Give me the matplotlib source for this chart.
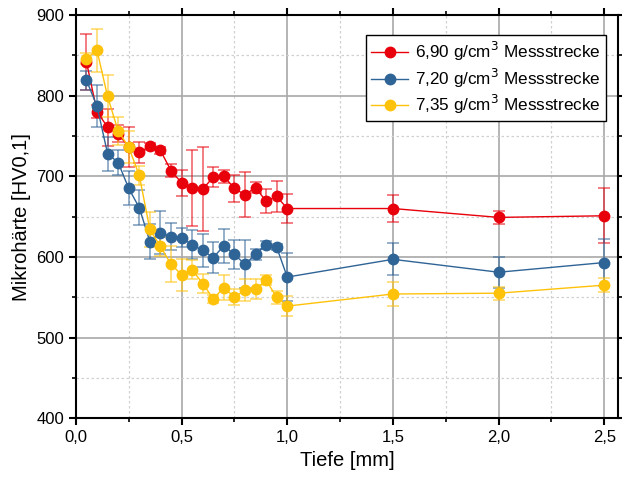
#!/usr/bin/env python3

import numpy as np
import matplotlib.pyplot as plt
from matplotlib.ticker import MultipleLocator, FuncFormatter

plt.rcParams["font.family"] = ["Liberation Sans", "DejaVu Sans"]

depth = [0.05, 0.1, 0.15, 0.2, 0.25, 0.3, 0.35, 0.4, 0.45, 0.5, 0.55, 0.6,
         0.65, 0.7, 0.75, 0.8, 0.85, 0.9, 0.95, 1.0, 1.5, 2.0, 2.5]

hv_690 = [842, 780, 761, 753, 736, 730, 737, 732, 707, 692, 685, 684,
          699, 700, 685, 677, 686, 669, 675, 660, 660, 649, 651]
err_690 = [35, 8, 23, 10, 25, 13, 4, 4, 8, 16, 47, 52,
           12, 8, 17, 28, 7, 15, 19, 18, 17, 8, 34]

hv_720 = [819, 787, 728, 717, 685, 661, 619, 630, 625, 624, 615, 608,
          599, 614, 603, 591, 603, 615, 612, 575, 597, 581, 593]
err_720 = [12, 26, 21, 15, 21, 22, 22, 27, 17, 12, 18, 20,
           19, 21, 18, 30, 7, 5, 4, 30, 20, 19, 29]

hv_735 = [846, 856, 799, 756, 736, 701, 634, 613, 591, 578, 584, 567,
          548, 562, 550, 559, 560, 571, 550, 539, 554, 555, 565]
err_735 = [7, 27, 26, 17, 20, 12, 22, 12, 22, 20, 12, 12,
           5, 15, 10, 14, 12, 6, 8, 12, 15, 8, 9]

labels = ["6,90 g/cm$^3$ Messstrecke", "7,20 g/cm$^3$ Messstrecke",
          "7,35 g/cm$^3$ Messstrecke"]
colors = ["#E8000B", "#2F6496", "#FFC20A"]


def comma(v, pos):
    return f"{v:.1f}".replace(".", ",")


fig = plt.figure(figsize=(6.22, 4.84), dpi=100)
ax = fig.add_axes([0.122, 0.136, 0.872, 0.833])

series = [(hv_690, err_690), (hv_720, err_720), (hv_735, err_735)]
for (vals, errs), lab, col in zip(series, labels, colors):
    ax.errorbar(depth, vals, yerr=errs, fmt="none", ecolor=col, alpha=0.55,
                elinewidth=1.3, capsize=4, capthick=1.3, zorder=3)
    ax.plot(depth, vals, color=col, lw=1.0, marker="o", ms=7.5,
            mec=col, mfc=col, label=lab, zorder=4)

ax.set_xlim(0, 2.566)
ax.set_ylim(400, 900)
ax.xaxis.set_major_locator(MultipleLocator(0.5))
ax.xaxis.set_minor_locator(MultipleLocator(0.25))
ax.yaxis.set_major_locator(MultipleLocator(100))
ax.yaxis.set_minor_locator(MultipleLocator(50))
ax.xaxis.set_major_formatter(FuncFormatter(comma))

ax.grid(True, which="major", color="#A8A8A8", lw=1.2, ls="-")
ax.grid(True, which="minor", color="#D0D0D0", lw=0.9, ls=(0, (2, 2)))
ax.set_axisbelow(True)

for s in ax.spines.values():
    s.set_linewidth(1.5)
ax.tick_params(which="major", direction="out", length=5, width=1.5,
               labelsize=12, top=True, right=True)
ax.tick_params(which="minor", direction="out", length=3, width=1.2,
               top=True, right=True)

ax.set_xlabel("Tiefe [mm]", fontsize=14.5)
ax.set_ylabel("Mikrohärte [HV0,1]", fontsize=14.5)

leg = ax.legend(loc="upper right", bbox_to_anchor=(0.993, 0.972),
                fontsize=12.3, fancybox=False, edgecolor="black",
                framealpha=1, handlelength=2.2, borderpad=0.3,
                labelspacing=0.2, handletextpad=0.4)
leg.get_frame().set_linewidth(1.0)
for h in leg.get_lines():
    h.set_alpha(1)

fig.savefig("out.png", dpi=100)
